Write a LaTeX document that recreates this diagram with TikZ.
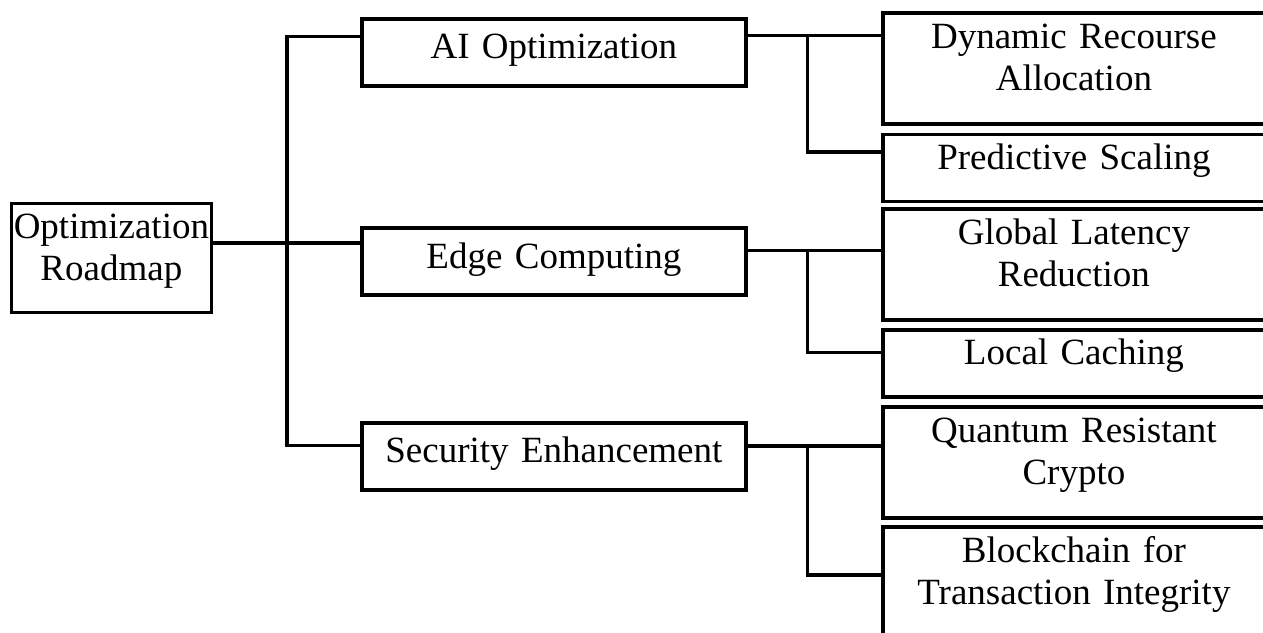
\documentclass[tikz,border=0pt]{standalone}
\usepackage{fontspec}
\setmainfont{Liberation Serif}
\begin{document}
\begin{tikzpicture}[x=1pt,y=-1pt,
  box/.style={draw=black, line width=3.8pt, rectangle, inner sep=0pt,
    anchor=north west, align=center,
    font=\fontsize{37}{42.5}\selectfont,
    text height=35pt, text depth=32pt},
  twoline/.style={text depth=76pt},
  midbox/.style={box, text width=384pt, text height=40pt, text depth=27pt},
  leafbox/.style={box, text width=382pt},
  conn/.style={draw=black, line width=3.6pt, line join=miter}]
\useasboundingbox (0,0) rectangle (1263,632);
\clip (0,0) rectangle (1263,632);

% root
\node[box, twoline, text width=200pt, text depth=74pt] (root) at (9.5,201.5) {Optimization\\Roadmap};

% second level
\node[midbox] (ai)   at (360,17)    {AI Optimization};
\node[midbox] (edge) at (360,226.3) {Edge Computing};
\node[midbox] (sec)  at (360,420.7) {Security Enhancement};

% leaves
\node[leafbox, twoline] (dyn)   at (881,11.3)  {Dynamic Recourse\\Allocation};
\node[leafbox]          (pred)  at (881,132.5) {Predictive Scaling};
\node[leafbox, twoline] (glob)  at (881,207.3) {Global Latency\\Reduction};
\node[leafbox]          (loc)   at (881,328)   {Local Caching};
\node[leafbox, twoline] (quant) at (881,405.3) {Quantum Resistant\\Crypto};
\node[leafbox, twoline] (block) at (881,525.3) {Blockchain for\\Transaction Integrity};

% junction points on the buses
\coordinate (jT) at (287,36.3);
\coordinate (jM) at (287,243);
\coordinate (jB) at (287,445.3);
\coordinate (aT) at (807.3,35.5);
\coordinate (aB) at (807.3,152);
\coordinate (eT) at (807.3,250.3);
\coordinate (eB) at (807.3,352.5);
\coordinate (sT) at (807.3,446);
\coordinate (sB) at (807.3,574.7);

% main bus
\draw[conn] (ai.west |- jT) -- (jT) -- (jB) -- (sec.west |- jB);
\draw[conn] (root.east |- jM) -- (edge.west |- jM);

% AI branch
\draw[conn] (ai.east |- aT) -- (dyn.west |- aT);
\draw[conn] (aT) -- (aB) -- (pred.west |- aB);

% Edge branch
\draw[conn] (edge.east |- eT) -- (glob.west |- eT);
\draw[conn] (eT) -- (eB) -- (loc.west |- eB);

% Security branch
\draw[conn] (sec.east |- sT) -- (quant.west |- sT);
\draw[conn] (sT) -- (sB) -- (block.west |- sB);
\end{tikzpicture}
\end{document}
